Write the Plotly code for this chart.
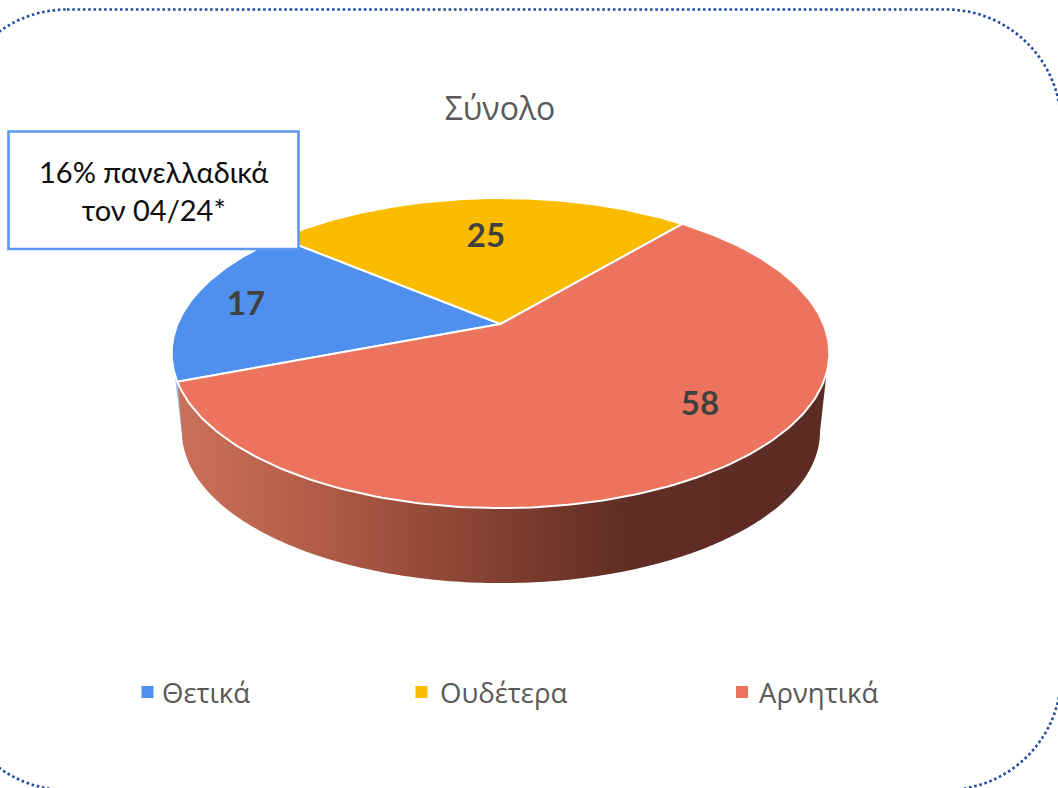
import numpy as np
import plotly.graph_objects as go

TITLE = "Σύνολο"
CATEGORIES = ["Θετικά", "Ουδέτερα", "Αρνητικά"]
VALUES = [17, 25, 58]
COLORS = ["#4F90EE", "#FBBC00", "#EC745F"]
NOTE = "16% πανελλαδικά<br>τον 04/24*"

# Pie geometry (perspective projection of a tilted disc), canvas pixels
CX, CY, A, B, K = 500.5, 324.0, 149.6, 323.0, 0.1875
FIRST_ANGLE = 248.9          # clockwise from the far side, where the first slice starts
DEPTH_CX, DEPTH_CY, DEPTH_SX, DEPTH_SY = 501.0, 403.4, 0.97, 0.976
LABEL_POS = [(246, 307), (486, 239), (700, 407)]
LEGEND_MARK_X = [147.5, 421.5, 742]
LEGEND_TEXT_X = [160, 438, 757]
LEGEND_Y = 692
SIDE_STOPS = [(183, "#CA705A"), (300, "#B55F4A"), (450, "#8F4737"),
              (560, "#703629"), (630, "#5F2D25"), (825, "#5C2B24")]


def project(deg, cx=CX, cy=CY, sx=1.0, sy=1.0):
    t = np.radians(deg)
    x, y = np.sin(t), np.cos(t)
    d = 1 + K * y
    return cx + sx * B * x / d, cy - sy * A * y / d


def bottom(deg):
    return project(deg, DEPTH_CX, DEPTH_CY, DEPTH_SX, DEPTH_SY)


fig = go.Figure()

# Slice angles from the values
cum = np.cumsum([0] + VALUES) / sum(VALUES) * 360 + FIRST_ANGLE
starts, ends = cum[:-1], cum[1:]

# Thin visible wall of the first slice
tx, ty = project(np.linspace(starts[0], starts[0] + 3, 30))
bx, by = bottom(np.linspace(starts[0] + 9, starts[0] + 3, 30))
fig.add_trace(go.Scatter(x=np.r_[tx, bx], y=np.r_[ty, by], fill="toself", mode="none",
                         fillcolor="#9DBFF0", showlegend=False, hoverinfo="skip"))

# Front wall of the last slice, with its horizontal shading
tx, ty = project(np.linspace(108, starts[0], 200))
bx, by = bottom(np.linspace(starts[0] + 9, 100.8, 200))
x0, x1 = SIDE_STOPS[0][0], SIDE_STOPS[-1][0]
scale = [[(p - x0) / (x1 - x0), c] for p, c in SIDE_STOPS]
fig.add_trace(go.Scatter(x=np.r_[tx, bx], y=np.r_[ty, by], fill="toself", mode="none",
                         fillgradient=dict(type="horizontal", start=x0, stop=x1, colorscale=scale),
                         showlegend=False, hoverinfo="skip"))

# Top slices
for name, color, a0, a1 in zip(CATEGORIES, COLORS, starts, ends):
    ax, ay = project(np.linspace(a0, a1, 200))
    fig.add_trace(go.Scatter(x=np.r_[CX, ax, CX], y=np.r_[CY, ay, CY], fill="toself",
                             mode="lines", line=dict(color="white", width=2),
                             fillcolor=color, name=name, showlegend=False))

# Value labels
fig.add_trace(go.Scatter(x=[p[0] for p in LABEL_POS], y=[p[1] for p in LABEL_POS],
                         text=[str(v) for v in VALUES], mode="text", showlegend=False,
                         textfont=dict(family="Lato", size=33, color="#404040", weight="bold"),
                         hoverinfo="skip"))

# Legend swatches and entries
fig.add_trace(go.Scatter(x=LEGEND_MARK_X, y=[LEGEND_Y] * 3, mode="markers", showlegend=False,
                         marker=dict(symbol="square", size=12, color=COLORS), hoverinfo="skip"))
legend_text = [dict(text=name, x=tx_, y=LEGEND_Y, xref="x", yref="y", xanchor="left",
                    yanchor="middle", showarrow=False,
                    font=dict(family="Open Sans", size=27.5, color="#595959"))
               for name, tx_ in zip(CATEGORIES, LEGEND_TEXT_X)]

# Rounded dotted frame
L, T, R, Bt, r = -48, 9.5, 1061, 790, 115
c = r * 0.5523
frame = (f"M{L + r},{T} L{R - r},{T} C{R - r + c},{T} {R},{T + r - c} {R},{T + r} "
         f"L{R},{Bt - r} C{R},{Bt - r + c} {R - r + c},{Bt} {R - r},{Bt} "
         f"L{L + r},{Bt} C{L + r - c},{Bt} {L},{Bt - r + c} {L},{Bt - r} "
         f"L{L},{T + r} C{L},{T + r - c} {L + r - c},{T} {L + r},{T} Z")

fig.update_layout(
    width=1058, height=788, margin=dict(l=0, r=0, t=0, b=0),
    paper_bgcolor="white", plot_bgcolor="white", showlegend=False,
    xaxis=dict(range=[0, 1058], visible=False, fixedrange=True),
    yaxis=dict(range=[788, 0], visible=False, fixedrange=True),
    title=dict(text=TITLE, x=500 / 1058, y=1 - 109 / 788, xanchor="center", yanchor="middle",
               font=dict(family="Open Sans", size=32, color="#595959")),
    shapes=[
        dict(type="path", path=frame, xref="x", yref="y",
             line=dict(color="#1F4E9C", width=2.6, dash="2.6px,2.7px"), layer="above"),
        dict(type="rect", x0=8.5, y0=131.5, x1=298.5, y1=249, xref="x", yref="y",
             fillcolor="white", line=dict(color="#5E97F0", width=2.6), layer="above"),
    ],
    annotations=[dict(text=NOTE, x=154, y=190.5, xref="x", yref="y", showarrow=False,
                      align="center", font=dict(family="Lato", size=29, color="#0D0D0D"))]
                + legend_text,
)
fig.write_html("out.html", config=dict(displayModeBar=False),
               post_script="document.body.style.margin='0';document.documentElement.style.overflow='hidden';")
